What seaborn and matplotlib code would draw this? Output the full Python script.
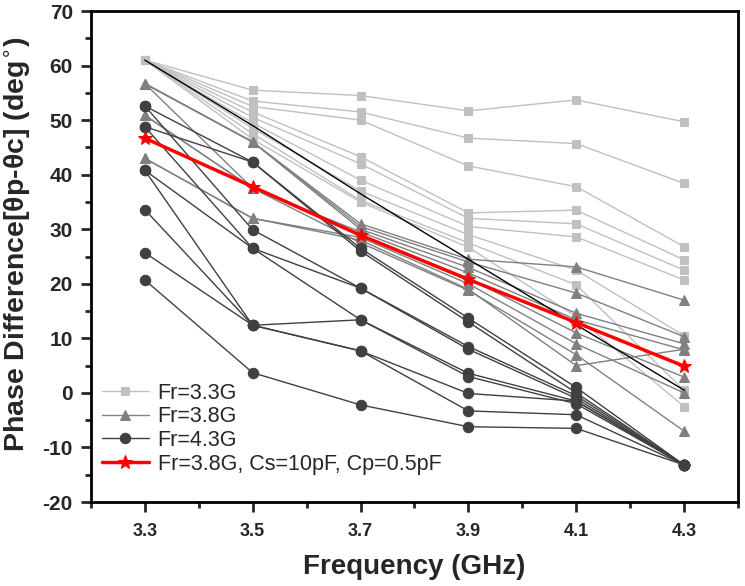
import matplotlib
matplotlib.use("Agg")
import matplotlib.pyplot as plt
import seaborn as sns
from matplotlib.ticker import MultipleLocator

# frequency points (GHz)
freq = [3.3, 3.5, 3.7, 3.9, 4.1, 4.3]

# Fr=3.3G curves (light gray squares)
fr33 = [
    [61, 55.5, 54.5, 51.7, 53.7, 49.7],
    [61, 53.5, 51.5, 46.7, 45.7, 38.4],
    [61, 52.5, 50.0, 41.6, 37.8, 26.8],
    [61, 51.5, 43.3, 33.0, 33.5, 24.4],
    [61, 50.5, 42.0, 32.0, 31.0, 22.5],
    [61, 49.5, 39.0, 30.5, 28.6, 20.7],
    [61, 48.5, 37.0, 29.0, 22.5, 10.5],
    [61, 47.5, 35.3, 27.5, 19.8, 0.5],
    [61, 46.5, 35.0, 26.7, 14.0, -2.5],
]

# Fr=3.8G curves (gray triangles)
fr38 = [
    [56.7, 46.0, 31.0, 24.5, 23.1, 17.0],
    [56.7, 46.0, 30.5, 24.0, 18.3, 10.3],
    [56.7, 46.0, 30.0, 23.0, 14.6, 9.0],
    [50.9, 37.5, 29.5, 22.0, 13.4, 7.9],
    [50.9, 37.5, 29.0, 21.0, 11.0, 2.9],
    [43.0, 32.0, 28.5, 20.0, 9.0, 0.0],
    [43.0, 32.0, 28.0, 19.0, 5.0, 8.0],
    [56.7, 37.5, 27.5, 18.8, 7.0, -7.0],
]

# Fr=4.3G curves (dark circles)
fr43 = [
    [52.6, 42.3, 26.5, 13.7, 1.0, -13.2],
    [48.8, 42.3, 26.0, 13.0, 0.0, -13.2],
    [52.6, 29.9, 19.2, 8.5, -0.5, -13.2],
    [48.8, 26.5, 19.2, 8.0, -1.0, -13.2],
    [40.8, 26.5, 13.4, 3.6, -1.5, -13.2],
    [33.6, 12.4, 13.4, 3.0, -2.0, -13.2],
    [40.8, 12.4, 7.7, -0.1, -1.5, -13.2],
    [25.7, 12.4, 7.7, -3.3, -4.0, -13.2],
    [20.7, 3.7, -2.2, -6.2, -6.5, -13.2],
]

# reference line (thin black) and the Cs/Cp case (red)
ref_line = [61, 49, 36.5, 24.5, 12.5, 0.5]
red_case = [46.7, 37.8, 28.9, 20.8, 12.9, 4.9]

sns.set_style("ticks")
plt.rcParams['font.family'] = ['Liberation Sans', 'DejaVu Sans']
plt.rcParams['axes.unicode_minus'] = False

fig = plt.figure(figsize=(7.45, 5.86), dpi=100)
ax = fig.add_axes([0.122, 0.1433, 0.8686, 0.8379])

groups = [
    (fr33, '#c0c0c0', 's', 6, 'Fr=3.3G'),
    (fr38, '#808080', '^', 7.5, 'Fr=3.8G'),
    (fr43, '#404040', 'o', 7.5, 'Fr=4.3G'),
]
for curves, col, mk, ms, lab in groups:
    for i, vals in enumerate(curves):
        sns.lineplot(x=freq, y=vals, ax=ax, color=col, marker=mk, markersize=ms,
                     markeredgecolor=col, linewidth=1.0,
                     label=lab if i == 0 else None, legend=False)

sns.lineplot(x=freq, y=ref_line, ax=ax, color='black', linewidth=1.0, legend=False)
sns.lineplot(x=freq, y=red_case, ax=ax, color='#ff0000', marker='*', markersize=10,
             markeredgecolor='#ff0000', linewidth=2.5,
             label='Fr=3.8G, Cs=10pF, Cp=0.5pF', legend=False)

ax.set_xlim(3.2, 4.4)
ax.set_ylim(-20, 70)
ax.set_xticks(freq)
ax.set_xticklabels(['3.3', '3.5', '3.7', '3.9', '4.1', '4.3'])
ax.xaxis.set_minor_locator(MultipleLocator(0.1))
ax.yaxis.set_major_locator(MultipleLocator(10))
ax.yaxis.set_minor_locator(MultipleLocator(5))
ax.tick_params(which='major', direction='out', length=7, width=2)
ax.tick_params(which='minor', direction='out', length=4, width=2)
ax.tick_params(axis='x', which='major', labelsize=13, pad=8)
ax.tick_params(axis='y', which='major', labelsize=15, pad=6)
for lbl in ax.get_xticklabels() + ax.get_yticklabels():
    lbl.set_fontweight('bold')
for s in ax.spines.values():
    s.set_linewidth(2)
    s.set_color('black')

ax.set_xlabel('Frequency (GHz)', fontsize=20, fontweight='bold', labelpad=10)
ax.set_ylabel('Phase Difference[θp-θc] (deg$^{\\circ}$)', fontsize=20.5,
              fontweight='bold')
ax.yaxis.set_label_coords(-0.09, 0.525)

ax.legend(loc='lower left', bbox_to_anchor=(0.0, 0.034), frameon=False, fontsize=15.5,
          handlelength=2.2, handletextpad=0.4, labelspacing=0.12, borderaxespad=0.1)

fig.savefig('out.png', dpi=100)
